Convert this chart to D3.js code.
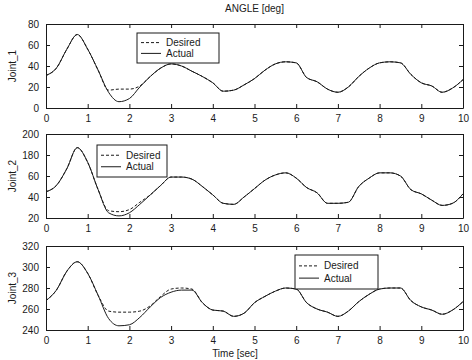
<!DOCTYPE html>
<html>
<head>
<meta charset="utf-8">
<script src="https://cdn.jsdelivr.net/npm/d3@7"></script>
<style>
  body { margin: 0; background: #fff; }
  svg { font-family: "Liberation Sans", Arial, sans-serif; }
</style>
</head>
<body>
<svg id="chart" width="472" height="360"></svg>
<script>
// temps (s), pas de 0.25
const times = d3.range(0, 10.001, 0.25);

const joint1Actual = [31, 38, 56, 70, 56, 36, 15, 6, 9, 20, 30, 38, 42, 40, 35, 30, 24, 16, 17, 22, 28,
  36, 42, 44, 43, 29, 25, 18, 15, 20, 30, 38, 43, 44, 43, 32, 24, 21, 15, 19, 27];
const joint1Desired = [31, 38, 56, 70, 56, 36, 17, 18, 18, 21, 30, 38, 42, 40, 35, 30, 24, 16, 17, 22, 28,
  36, 42, 44, 43, 29, 25, 18, 15, 20, 30, 38, 43, 44, 43, 32, 24, 21, 15, 19, 27];

const joint2Actual = [45, 51, 67, 87, 73, 47, 25, 22, 25, 33, 42, 51, 59, 59, 57, 50, 42, 34, 33, 40, 48,
  56, 61, 63, 58, 49, 44, 34, 34, 35, 50, 58, 63, 63, 60, 47, 43, 37, 32, 34, 43];
const joint2Desired = [45, 51, 67, 87, 73, 47, 27, 26, 28, 35, 42, 51, 59, 59, 57, 50, 42, 34, 33, 40, 48,
  56, 61, 63, 58, 49, 44, 34, 34, 35, 50, 58, 63, 63, 60, 47, 43, 37, 32, 34, 43];

const joint3Actual = [268, 278, 296, 305, 294, 273, 251, 244, 245, 252, 262, 271, 276, 278, 278, 266, 259, 258, 253, 256, 266,
  272, 277, 280, 279, 266, 260, 257, 253, 258, 267, 274, 279, 280, 280, 268, 262, 259, 255, 259, 267];
const joint3Desired = [268, 278, 296, 305, 294, 273, 258, 257, 257, 258, 263, 272, 279, 280, 279, 266, 259, 258, 253, 256, 266,
  272, 277, 280, 279, 266, 260, 257, 253, 258, 267, 274, 279, 280, 280, 268, 262, 259, 255, 259, 267];

const xTicks = d3.range(0, 11);
const joint1Ticks = [0, 20, 40, 60, 80];
const joint2Ticks = [20, 40, 60, 80, 100];
const joint2TickLabels = ["20", "40", "60", "180", "200"];
const joint3Ticks = [240, 260, 280, 300, 320];

const panels = [
  { name: "Joint_1", actual: joint1Actual, desired: joint1Desired, domain: [0, 80], ticks: joint1Ticks,
    labels: null, top: 24, legend: { x: 137, y: 33, w: 82, h: 30 } },
  { name: "Joint_2", actual: joint2Actual, desired: joint2Desired, domain: [20, 100], ticks: joint2Ticks,
    labels: joint2TickLabels, top: 134, legend: { x: 97, y: 145, w: 70, h: 32 } },
  { name: "Joint_3", actual: joint3Actual, desired: joint3Desired, domain: [240, 320], ticks: joint3Ticks,
    labels: null, top: 246, legend: { x: 295, y: 255, w: 83, h: 34 } }
];

const svg = d3.select("#chart");
const left = 46, right = 463, plotH = 84;
const ink = "#1a1a1a";

const x = d3.scaleLinear().domain([0, 10]).range([left, right]);

svg.append("text")
  .attr("x", (left + right) / 2).attr("y", 12)
  .attr("text-anchor", "middle")
  .style("font-size", "10px").style("fill", ink)
  .text("ANGLE [deg]");

panels.forEach(p => {
  const y = d3.scaleLinear().domain(p.domain).range([p.top + plotH, p.top]);
  const g = svg.append("g");

  // axes avec graduations vers l'intérieur
  const xb = g.append("g").attr("transform", `translate(0,${p.top + plotH})`)
    .call(d3.axisBottom(x).tickValues(xTicks).tickSizeInner(-4).tickSizeOuter(0).tickPadding(7));
  const xt = g.append("g").attr("transform", `translate(0,${p.top})`)
    .call(d3.axisTop(x).tickValues(xTicks).tickSizeInner(-4).tickSizeOuter(0).tickFormat(""));
  const yl = g.append("g").attr("transform", `translate(${left},0)`)
    .call(d3.axisLeft(y).tickValues(p.ticks).tickSizeInner(-4).tickSizeOuter(0).tickPadding(7)
      .tickFormat((d, i) => p.labels ? p.labels[i] : d));
  const yr = g.append("g").attr("transform", `translate(${right},0)`)
    .call(d3.axisRight(y).tickValues(p.ticks).tickSizeInner(-4).tickSizeOuter(0).tickFormat(""));

  [xb, xt, yl, yr].forEach(a => {
    a.select(".domain").attr("stroke", ink);
    a.selectAll(".tick line").attr("stroke", ink);
    a.selectAll("text").style("font-size", "10px").style("fill", ink).attr("font-family", null);
  });

  g.append("text")
    .attr("transform", `translate(16,${p.top + plotH / 2}) rotate(-90)`)
    .attr("text-anchor", "middle")
    .style("font-size", "10px").style("fill", ink)
    .text(p.name);

  const line = d3.line().x((d, i) => x(times[i])).y(d => y(d)).curve(d3.curveMonotoneX);

  g.append("path").datum(p.desired)
    .attr("d", line).attr("fill", "none")
    .attr("stroke", ink).attr("stroke-width", 1).attr("stroke-dasharray", "3,2");
  g.append("path").datum(p.actual)
    .attr("d", line).attr("fill", "none")
    .attr("stroke", ink).attr("stroke-width", 1);

  // légende
  const L = p.legend;
  const lg = g.append("g");
  lg.append("rect").attr("x", L.x).attr("y", L.y).attr("width", L.w).attr("height", L.h)
    .attr("fill", "#fff").attr("stroke", ink);
  [["Desired", "3,2"], ["Actual", null]].forEach(([lab, dash], i) => {
    const cy = L.y + L.h * (i === 0 ? 0.32 : 0.68);
    lg.append("line").attr("x1", L.x + 4).attr("x2", L.x + 24).attr("y1", cy).attr("y2", cy)
      .attr("stroke", ink).attr("stroke-dasharray", dash);
    lg.append("text").attr("x", L.x + 29).attr("y", cy).attr("dy", "0.35em")
      .style("font-size", "10px").style("fill", ink).text(lab);
  });
});

svg.append("text")
  .attr("x", 235).attr("y", 357)
  .attr("text-anchor", "middle")
  .style("font-size", "10px").style("fill", ink)
  .text("Time [sec]");
</script>
</body>
</html>
